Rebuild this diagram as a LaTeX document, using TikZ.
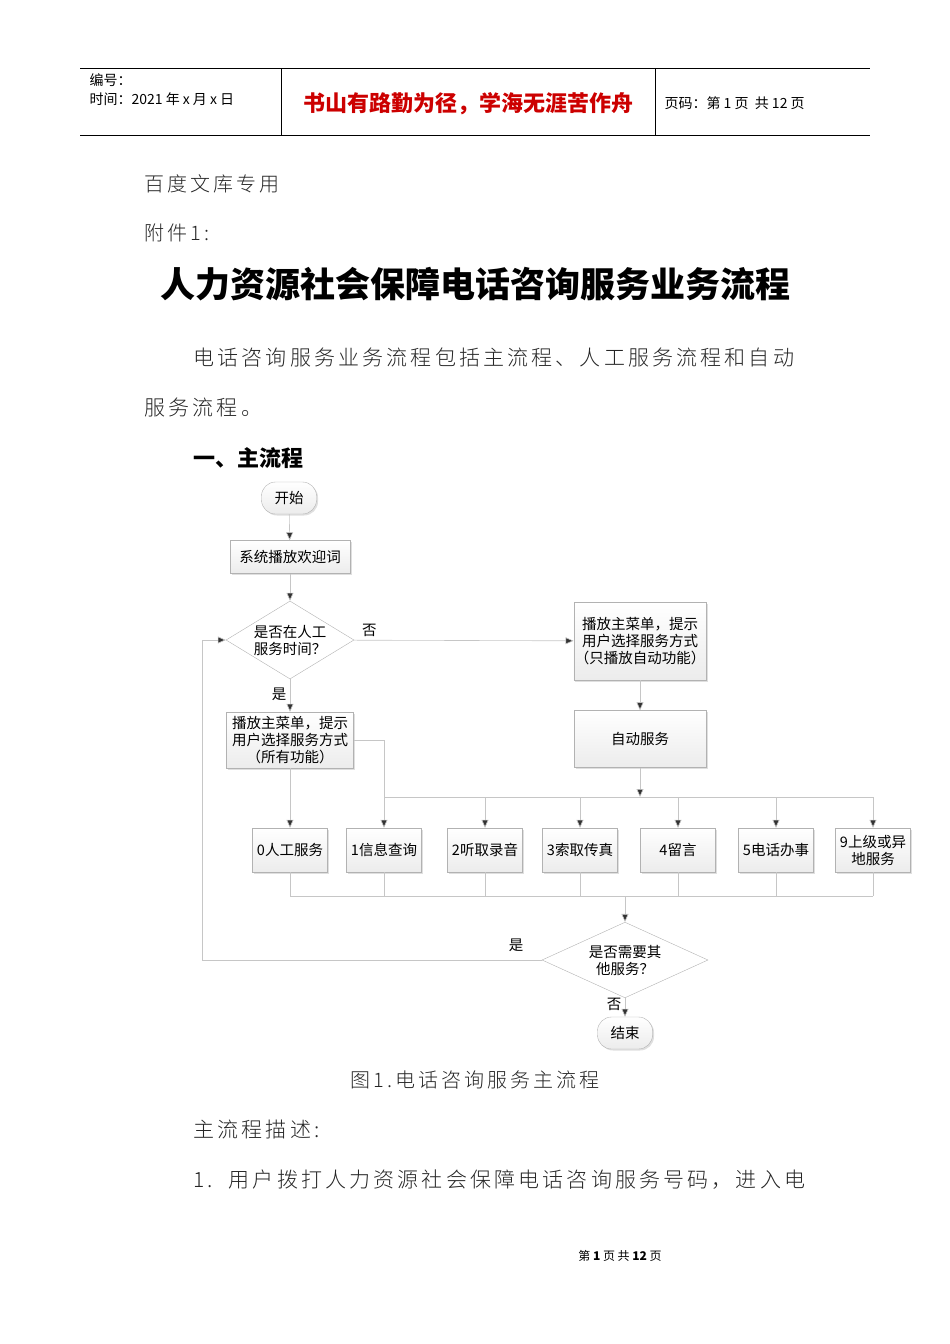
\documentclass[tikz,border=0pt]{standalone}
\usepackage{fontspec}
\setmainfont{Noto Sans CJK SC}
\newfontfamily\spc[LetterSpace=15]{Noto Sans CJK SC Light}
\usetikzlibrary{shapes.geometric,shadows,arrows.meta}
\begin{document}
\begin{tikzpicture}[x=1pt,y=-1pt,
  box/.style={draw=gray!60,top color=white,bottom color=gray!15,drop shadow={opacity=0.25,shadow xshift=1.5pt,shadow yshift=-1.5pt},font=\fontsize{14.5}{17}\selectfont,align=center,inner sep=1pt},
  term/.style={box,rounded corners=14pt,minimum width=55pt,minimum height=32pt},
  dia/.style={draw=gray!60,fill=white,diamond,aspect=1.6,font=\fontsize{14.5}{17}\selectfont,align=center,inner sep=0pt},
  ln/.style={draw=gray!45,line width=0.6pt},
  ar/.style={ln,-{Triangle[length=8pt,width=7pt,fill=black!80]}},
  lab/.style={font=\fontsize{14.5}{16}\selectfont},
  body/.style={font=\fontsize{21}{24}\spc,text=black!85}]
\useasboundingbox (0,0) rectangle (950,1344);
% header
\draw[line width=0.6pt] (80,68) -- (870,68) (80,135) -- (870,135) (281,68) -- (281,135) (655,68) -- (655,135);
\node[anchor=west,font=\fontsize{14}{16}\selectfont] (h1) at (86,80) {编号：};
\node[anchor=west,font=\fontsize{14}{16}\selectfont] (h2) at (86,99) {时间：2021 年 x 月 x 日};
\node[font=\fontsize{22}{24}\selectfont\bfseries,text=red!80!black] (h3) at (468,104) {书山有路勤为径，学海无涯苦作舟};
\node[anchor=west,font=\fontsize{14}{16}\selectfont] (h4) at (661,103) {页码：第 1 页\ \ 共 12 页};
% texts
\node[anchor=west,body,font=\fontsize{20}{24}\spc] (t1) at (141,184) {百度文库专用};
\node[anchor=west,body,font=\fontsize{20}{24}\spc] (t2) at (141,233) {附件1:};
\node[font=\fontsize{35}{38}\selectfont\bfseries] (title) at (475,284) {人力资源社会保障电话咨询服务业务流程};
\node[anchor=west,body] (p1) at (190,358) {电话咨询服务业务流程包括主流程、人工服务流程和自动};
\node[anchor=west,body] (p2) at (141,408) {服务流程。};
\node[anchor=west,font=\fontsize{22}{24}\selectfont\bfseries] (s1) at (190,458) {一、主流程};
% flowchart
\node[term] (start) at (289,498) {开始};
\node[box,minimum width=120pt,minimum height=33pt] (welcome) at (290,557) {系统播放欢迎词};
\node[dia,minimum width=128pt,minimum height=78pt] (d1) at (290,640) {是否在人工\\服务时间？};
\node[box,minimum width=132pt,minimum height=78pt] (menuA) at (640,641) {播放主菜单，提示\\用户选择服务方式\\（只播放自动功能）};
\node[box,minimum width=132pt,minimum height=57pt] (auto) at (640,739) {自动服务};
\node[box,minimum width=127pt,minimum height=56pt] (menuB) at (290,740) {播放主菜单，提示\\用户选择服务方式\\（所有功能）};
\foreach \n/\x/\t in {s0/290/0人工服务,s1/384/1信息查询,s2/485/2听取录音,s3/580/3索取传真,s4/678/4留言,s5/776/5电话办事,s9/873/9上级或异\\地服务}
  \node[box,minimum width=75pt,minimum height=44pt] (\n) at (\x,850) {\t};
\node[dia,minimum width=166pt,minimum height=70pt] (d2) at (625,960) {是否需要其\\他服务？};
\node[term] (end) at (625,1033) {结束};
\coordinate (busL) at (384,797);
\coordinate (busA) at (640,797);
\draw[ar] (start) -- (welcome);
\draw[ar] (welcome) -- (d1);
\draw[ar] (d1) -- (menuA) node[lab,pos=0.07,above,black] {否};
\draw[ar] (d1) -- (menuB) node[lab,pos=0.45,left,black] {是};
\draw[ar] (menuA) -- (auto);
\draw[ar] (auto) -- (busA);
\draw[ln] (menuB.east) -| (busL) -- (873,797);
\draw[ar] (menuB) -- (s0);
\foreach \n in {s1,s2,s3,s4,s5,s9} \draw[ar] (\n.north |- busL) -- (\n);
\foreach \n in {s0,s1,s2,s3,s4,s5,s9} \draw[ln] (\n) -- (\n.south |- 0,896);
\draw[ln] (290,896) -- (873,896);
\coordinate (busB) at (625,896);
\draw[ar] (busB) -- (d2);
\draw[ar] (d2.west) -- (202,960) -- (202,640) -- (d1.west);
\node[lab] (yes2) at (516,945) {是};
\draw[ar] (d2) -- (end) node[lab,pos=0.35,left,black] {否};
% bottom text
\node[body,font=\fontsize{20}{24}\spc] (cap) at (475,1080) {图1.电话咨询服务主流程};
\node[anchor=west,body] (p3) at (190,1130) {主流程描述:};
\node[anchor=west,body] (p4) at (190,1180) {1.\ \ 用户拨打人力资源社会保障电话咨询服务号码，进入电};
\node[font=\fontsize{12}{14}\selectfont] (foot) at (620,1256) {第 \textbf{1} 页 共 \textbf{12} 页};
\end{tikzpicture}
\end{document}
